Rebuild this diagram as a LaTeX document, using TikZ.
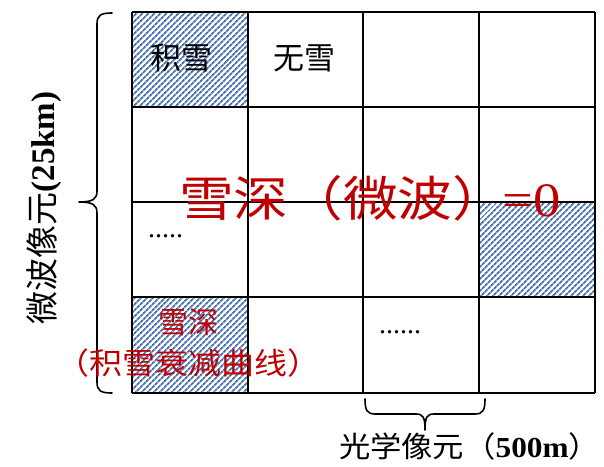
\documentclass[tikz,border=0pt]{standalone}
\usepackage{fontspec}
\setmainfont{Liberation Serif}
\newfontfamily\cjk{Noto Sans CJK SC}
\usetikzlibrary{patterns.meta}
\definecolor{snowred}{RGB}{192,0,0}
\definecolor{hatchblue}{RGB}{70,112,180}
\tikzset{
  gridline/.style={line width=1.6pt, black},
  hatched/.style={pattern={Lines[angle=45,distance=4pt,line width=1.8pt]}, pattern color=hatchblue},
  bracepath/.style={line width=1.6pt, black, line cap=round, line join=round},
  lbl/.style={inner sep=0pt, outer sep=0pt},
}
\begin{document}
\begin{tikzpicture}[x=1pt,y=-1pt]
\useasboundingbox (0,0) rectangle (604,466);
\fill[white] (0,0) rectangle (604,466);
% hatched cells
\fill[hatched] (132,12) rectangle (248,107);
\fill[hatched] (479,202) rectangle (595,297);
\fill[hatched] (132,297) rectangle (248,393);
% grid
\foreach \x in {132,248,363,479,595} \draw[gridline] (\x,12) -- (\x,393);
\foreach \y in {12,107,202,297,393} \draw[gridline] (132,\y) -- (595,\y);
% left brace
\draw[bracepath] (112,13) .. controls (101,13) and (97,15) .. (97,24) -- (97,191)
  .. controls (97,199) and (93,202) .. (79,202)
  .. controls (93,202) and (97,205) .. (97,213) -- (97,382)
  .. controls (97,391) and (101,393) .. (112,393);
% bottom brace
\draw[bracepath] (365,399) .. controls (365,410) and (367,414) .. (375,414) -- (416,414)
  .. controls (423,414) and (425,417) .. (425,430)
  .. controls (425,417) and (427,414) .. (434,414) -- (475,414)
  .. controls (483,414) and (485,410) .. (485,399);
% texts
\node[lbl] (jixue) at (181,58) {\cjk\fontsize{31}{34}\selectfont 积雪};
\node[lbl] (wuxue) at (304,58) {\cjk\fontsize{31}{34}\selectfont 无雪};
\node[lbl, text=snowred] (xueshen) at (370,198)
  {\scalebox{1.14}[1]{\fontsize{48}{50}\selectfont{\cjk 雪深（微波）}\kern-4pt=0}};
\node[lbl, anchor=west] (dots1) at (148,236) {\fontsize{28}{30}\selectfont .....};
\node[lbl] (dots2) at (400,332) {\fontsize{28}{30}\selectfont ......};
\node[lbl, text=snowred] (xs2) at (188,322) {\cjk\fontsize{30}{32}\selectfont 雪深};
\node[lbl, text=snowred] (curve) at (188,363) {\scalebox{1.1}[1]{\cjk\fontsize{30}{32}\selectfont （积雪衰减曲线）}};
\node[lbl, rotate=90] (mwlabel) at (44,208)
  {\fontsize{33}{36}\selectfont{\cjk 微波像元}\textbf{(25km)}};
\node[lbl, anchor=west] (optlabel) at (339,446)
  {\scalebox{1.08}[1]{\fontsize{29}{32}\selectfont{\cjk 光学像元（}\textbf{500m}{\cjk ）}}};
\end{tikzpicture}
\end{document}
